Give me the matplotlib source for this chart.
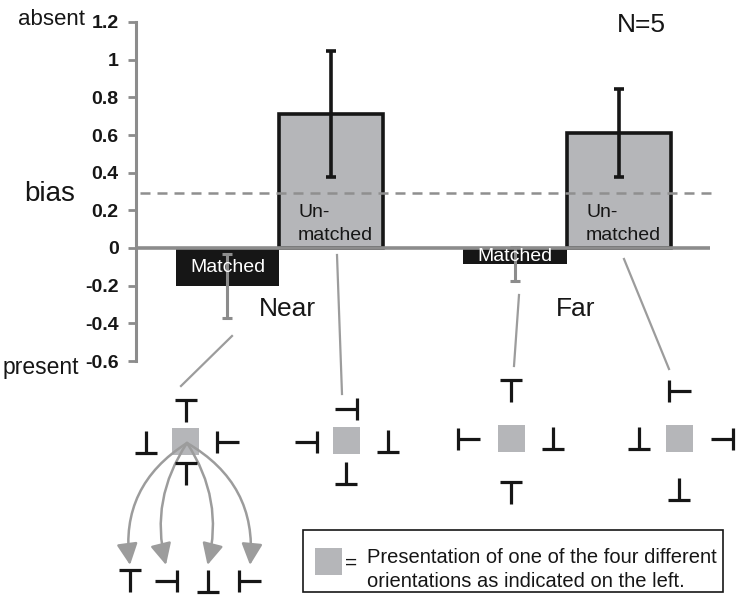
import matplotlib
matplotlib.use('Agg')
from matplotlib import pyplot as plt
from matplotlib.patches import Rectangle, FancyArrowPatch

plt.rcParams['font.family'] = ['Liberation Sans', 'DejaVu Sans']

# data
conditions = ['Near', 'Far']
pairings = ['Matched', 'Unmatched']
bias_mean = [-0.20, 0.71, -0.085, 0.61]
bias_err = [0.17, 0.335, 0.09, 0.235]
reference_bias = 0.29
y_ticks = [-0.6, -0.4, -0.2, 0, 0.2, 0.4, 0.6, 0.8, 1, 1.2]
n_label = 'N=5'

AX_GRAY = '#8c8c8c'
INK = '#161616'
BAR_GRAY = '#b5b6b9'
LINE_GRAY = '#9c9c9c'
W, H = 738, 597

fig = plt.figure(figsize=(W / 100, H / 100), dpi=100)
ax = fig.add_axes([136 / W, 1 - 361 / H, (715 - 136) / W, (361 - 22) / H])

group_gap = 2.77
xs = [g * group_gap + k for g in range(len(conditions)) for k in range(len(pairings))]

for i, (x, m, e) in enumerate(zip(xs, bias_mean, bias_err)):
    if i % 2 == 0:
        ax.bar(x, m, width=1.0, color=INK, zorder=2)
        ax.errorbar(x, m, yerr=e, fmt='none', ecolor=AX_GRAY, elinewidth=2.2,
                    capsize=3.5, capthick=2.2, zorder=4)
        ax.text(x, m / 2 - 0.005, 'Matched', color='white', fontsize=14,
                ha='center', va='center', zorder=6)
    else:
        ax.bar(x, m, width=1.0, color=BAR_GRAY, edgecolor=INK, linewidth=2.6, zorder=2)
        ax.errorbar(x, m, yerr=e, fmt='none', ecolor=INK, elinewidth=2.6,
                    capsize=3.5, capthick=2.6, zorder=4)
        ax.text(x - 0.32, 0.186, 'Un-', color=INK, fontsize=14, ha='left', va='center', zorder=6)
        ax.text(x - 0.32, 0.064, 'matched', color=INK, fontsize=14, ha='left', va='center', zorder=6)

for g, name in enumerate(conditions):
    ax.text(g * group_gap + 0.58, -0.324, name, fontsize=19, color=INK,
            ha='center', va='center', zorder=6)

ax.set_xlim(-0.88, 4.69)
ax.set_ylim(-0.6, 1.2)
ax.plot([-0.88, 4.64], [0, 0], color=AX_GRAY, lw=2.6, zorder=3,
        solid_capstyle='butt', clip_on=False)
ax.plot([-0.84, 4.69], [reference_bias, reference_bias], color='#8f8f8f', lw=1.8,
        dashes=(4, 2.8), zorder=3.5)

for side in ['top', 'right', 'bottom']:
    ax.spines[side].set_visible(False)
ax.spines['left'].set_color(AX_GRAY)
ax.spines['left'].set_linewidth(2.2)
ax.spines['left'].set_bounds(-0.6, 1.2)
ax.set_xticks([])
ax.set_yticks(y_ticks)
ax.set_yticklabels([f'{t:g}' for t in y_ticks])
ax.tick_params(axis='y', direction='out', length=5.5, width=2, color=AX_GRAY,
               labelsize=14, pad=7, labelcolor=INK)
for lbl in ax.get_yticklabels():
    lbl.set_fontweight('bold')
ax.patch.set_alpha(0)

# overlay in pixel coordinates for the stimulus sketches
ov = fig.add_axes([0, 0, 1, 1], zorder=5)
ov.set_xlim(0, W)
ov.set_ylim(H, 0)
ov.axis('off')
ov.patch.set_alpha(0)


def draw_junction(cx, cy, kind, s=11):
    if kind == 'T':
        segs = [((cx - s, cx + s), (cy - s, cy - s)), ((cx, cx), (cy - s, cy + s))]
    elif kind == 'inv':
        segs = [((cx - s, cx + s), (cy + s, cy + s)), ((cx, cx), (cy - s, cy + s))]
    elif kind == 'right':
        segs = [((cx - s, cx - s), (cy - s, cy + s)), ((cx - s, cx + s), (cy, cy))]
    else:
        segs = [((cx + s, cx + s), (cy - s, cy + s)), ((cx - s, cx + s), (cy, cy))]
    for sx, sy in segs:
        ov.plot(sx, sy, color=INK, lw=2.3, solid_capstyle='butt')


def draw_square(cx, cy, s=27):
    ov.add_patch(Rectangle((cx - s / 2, cy - s / 2), s, s, color=BAR_GRAY, lw=0))


# centre of each gray square, then the four surrounding junctions
sketches = [
    ((185.5, 441.5), [(186, 411, 'T'), (146, 441.5, 'inv'), (228, 441.5, 'right'), (186, 474, 'T')]),
    ((346.5, 440), [(346, 408.5, 'left'), (306, 442, 'left'), (387.5, 441, 'inv'), (346, 473, 'inv')]),
    ((511.5, 438.5), [(511, 391, 'T'), (469, 439, 'right'), (553, 438, 'inv'), (511, 493, 'T')]),
    ((679, 438.5), [(680, 391, 'right'), (639, 438, 'inv'), (722, 439, 'left'), (679, 489, 'inv')]),
]
for (sx, sy), parts in sketches:
    draw_square(sx, sy)
    for cx, cy, kind in parts:
        draw_junction(cx, cy, kind)

connectors = [((232, 336), (181, 386)), ((337, 255), (342, 394)),
              ((519, 295), (514, 366)), ((624, 259), (669, 369))]
for (x0, y0), (x1, y1) in connectors:
    ov.plot([x0, x1], [y0, y1], color=LINE_GRAY, lw=1.6)

# the four orientations
row = [(130, 581, 'T'), (166, 581, 'left'), (207.5, 581, 'inv'), (250, 581, 'right')]
rads = [0.32, 0.22, -0.22, -0.32]
for (cx, cy, kind), r in zip(row, rads):
    draw_junction(cx, cy, kind)
    ov.add_patch(FancyArrowPatch((187, 443), (cx, 565), connectionstyle=f'arc3,rad={r}',
                                 arrowstyle='-|>,head_length=0.65,head_width=0.32',
                                 mutation_scale=20, color=LINE_GRAY, lw=1.8,
                                 shrinkA=0, shrinkB=0))

# key box
ov.add_patch(Rectangle((303, 530), 420, 62, facecolor='white', edgecolor=INK, lw=1.2))
draw_square(328.5, 561.5)
ov.text(351, 563, '=', fontsize=15, color=INK, ha='center', va='center')
ov.text(367, 563, 'Presentation of one of the four different', fontsize=14.5,
        color=INK, ha='left', va='baseline')
ov.text(367, 587, 'orientations as indicated on the left.', fontsize=14.5,
        color=INK, ha='left', va='baseline')

ov.text(18, 25, 'absent', fontsize=16, color=INK, ha='left', va='baseline')
ov.text(3, 374, 'present', fontsize=16.5, color=INK, ha='left', va='baseline')
ov.text(24, 201, 'bias', fontsize=20, color=INK, ha='left', va='baseline')
ov.text(617, 32, n_label, fontsize=19, color=INK, ha='left', va='baseline')

fig.savefig('out.png', dpi=100)
